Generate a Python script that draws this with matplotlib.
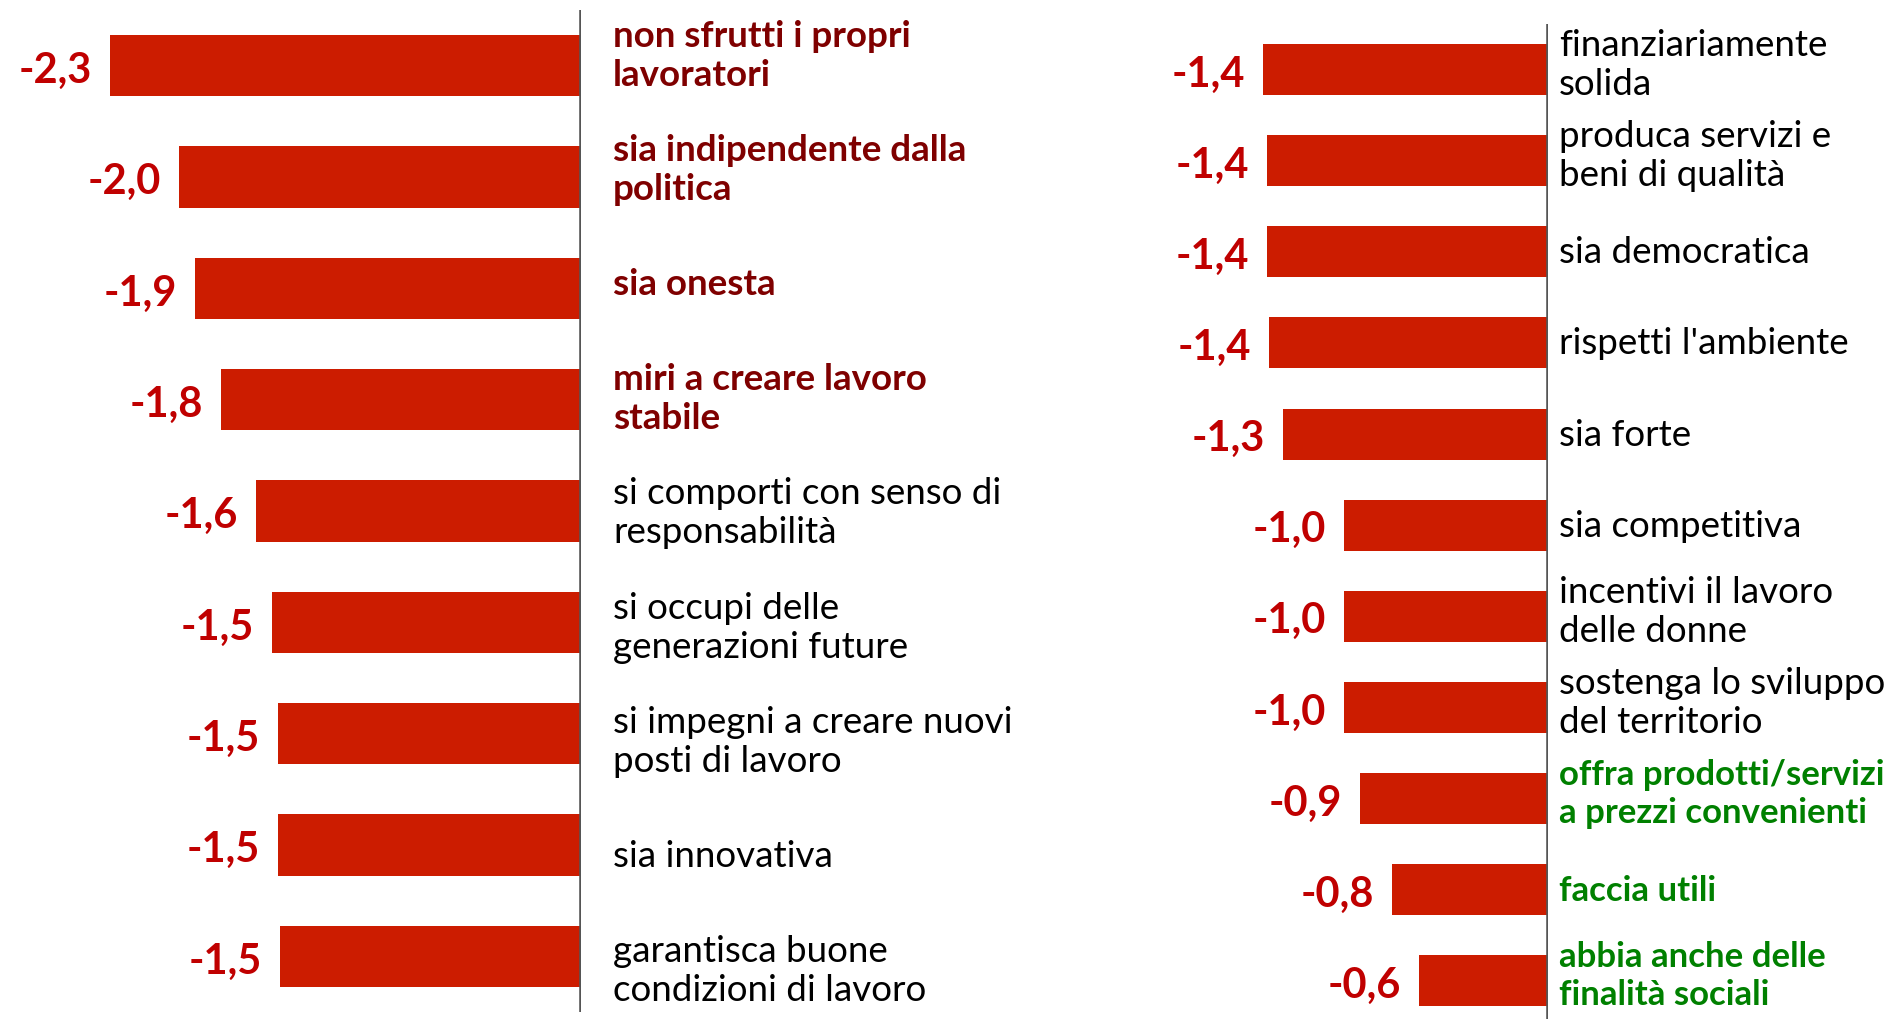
import matplotlib.pyplot as plt

plt.rcParams['font.family'] = ['Lato', 'DejaVu Sans']

# left panel
left_labels = ["non sfrutti i propri\nlavoratori",
               "sia indipendente dalla\npolitica",
               "sia onesta",
               "miri a creare lavoro\nstabile",
               "si comporti con senso di\nresponsabilità",
               "si occupi delle\ngenerazioni future",
               "si impegni a creare nuovi\nposti di lavoro",
               "sia innovativa",
               "garantisca buone\ncondizioni di lavoro"]
left_values = [-2.33, -1.99, -1.91, -1.78, -1.61, -1.53, -1.50, -1.50, -1.49]
left_groups = ["top", "top", "top", "top", "mid", "mid", "mid", "mid", "mid"]

# right panel
right_labels = ["finanziariamente\nsolida",
                "produca servizi e\nbeni di qualità",
                "sia democratica",
                "rispetti l'ambiente",
                "sia forte",
                "sia competitiva",
                "incentivi il lavoro\ndelle donne",
                "sostenga lo sviluppo\ndel territorio",
                "offra prodotti/servizi\na prezzi convenienti",
                "faccia utili",
                "abbia anche delle\nfinalità sociali"]
right_values = [-1.41, -1.39, -1.39, -1.38, -1.31, -1.01, -1.01, -1.01, -0.93, -0.77, -0.64]
right_groups = ["mid"] * 8 + ["low"] * 3

bar_color = '#CC1C00'
value_color = '#C00000'
# colour, weight, size
label_style = {"top": ('#7F0000', 'bold', 26.5),
               "mid": ('#000000', 'normal', 26.5),
               "low": ('#008000', 'bold', 25)}

W, H = 1895, 1020
scale = 202.0  # pixels per unit
fig = plt.figure(figsize=(W / 100, H / 100), dpi=100)


def panel(x0, y_top, y_bot, n, lo_pad, labels, values, groups, height, gap,
          stretch, shift, dy2):
    # axes from pixel 0..x0 horizontally, data 0 at x0
    ax = fig.add_axes([0, 1 - y_bot / H, x0 / W, (y_bot - y_top) / H])
    ax.set_xlim(-x0 / scale, 0)
    ax.set_ylim(n - 1 + lo_pad, -0.5)
    ax.axis('off')
    pos = list(range(n))
    ax.barh(pos, values, height=height, color=bar_color, zorder=2)
    ax.axvline(0, color='#555555', lw=3.3, zorder=3)
    for p, v, lab, g in zip(pos, values, labels, groups):
        ax.annotate(f"{v:.1f}".replace('.', ','), (v, p), xytext=(-13, -3),
                    textcoords='offset points', ha='right', va='center',
                    fontsize=30, fontweight='bold', color=value_color,
                    annotation_clip=False)
        col, wt, fs = label_style[g]
        dy = dy2 if '\n' in lab else 0
        ax.annotate(lab, (0, p * stretch + shift), xytext=(gap, dy),
                    textcoords='offset points', ha='left', va='center',
                    fontsize=fs, fontweight=wt, color=col, linespacing=1.22,
                    annotation_clip=False)
    return ax


# text boxes on the left sit on a slightly wider grid than the bars
panel(581, 11, 1013, len(left_values), 0.5, left_labels, left_values,
      left_groups, 0.55, 23, 1.028, -0.1, 0)
panel(1548, 25, 1020, len(right_values), 0.42, right_labels, right_values,
      right_groups, 0.56, 8, 1.0, 0.0, 4)

plt.savefig('out.png', dpi=100)
